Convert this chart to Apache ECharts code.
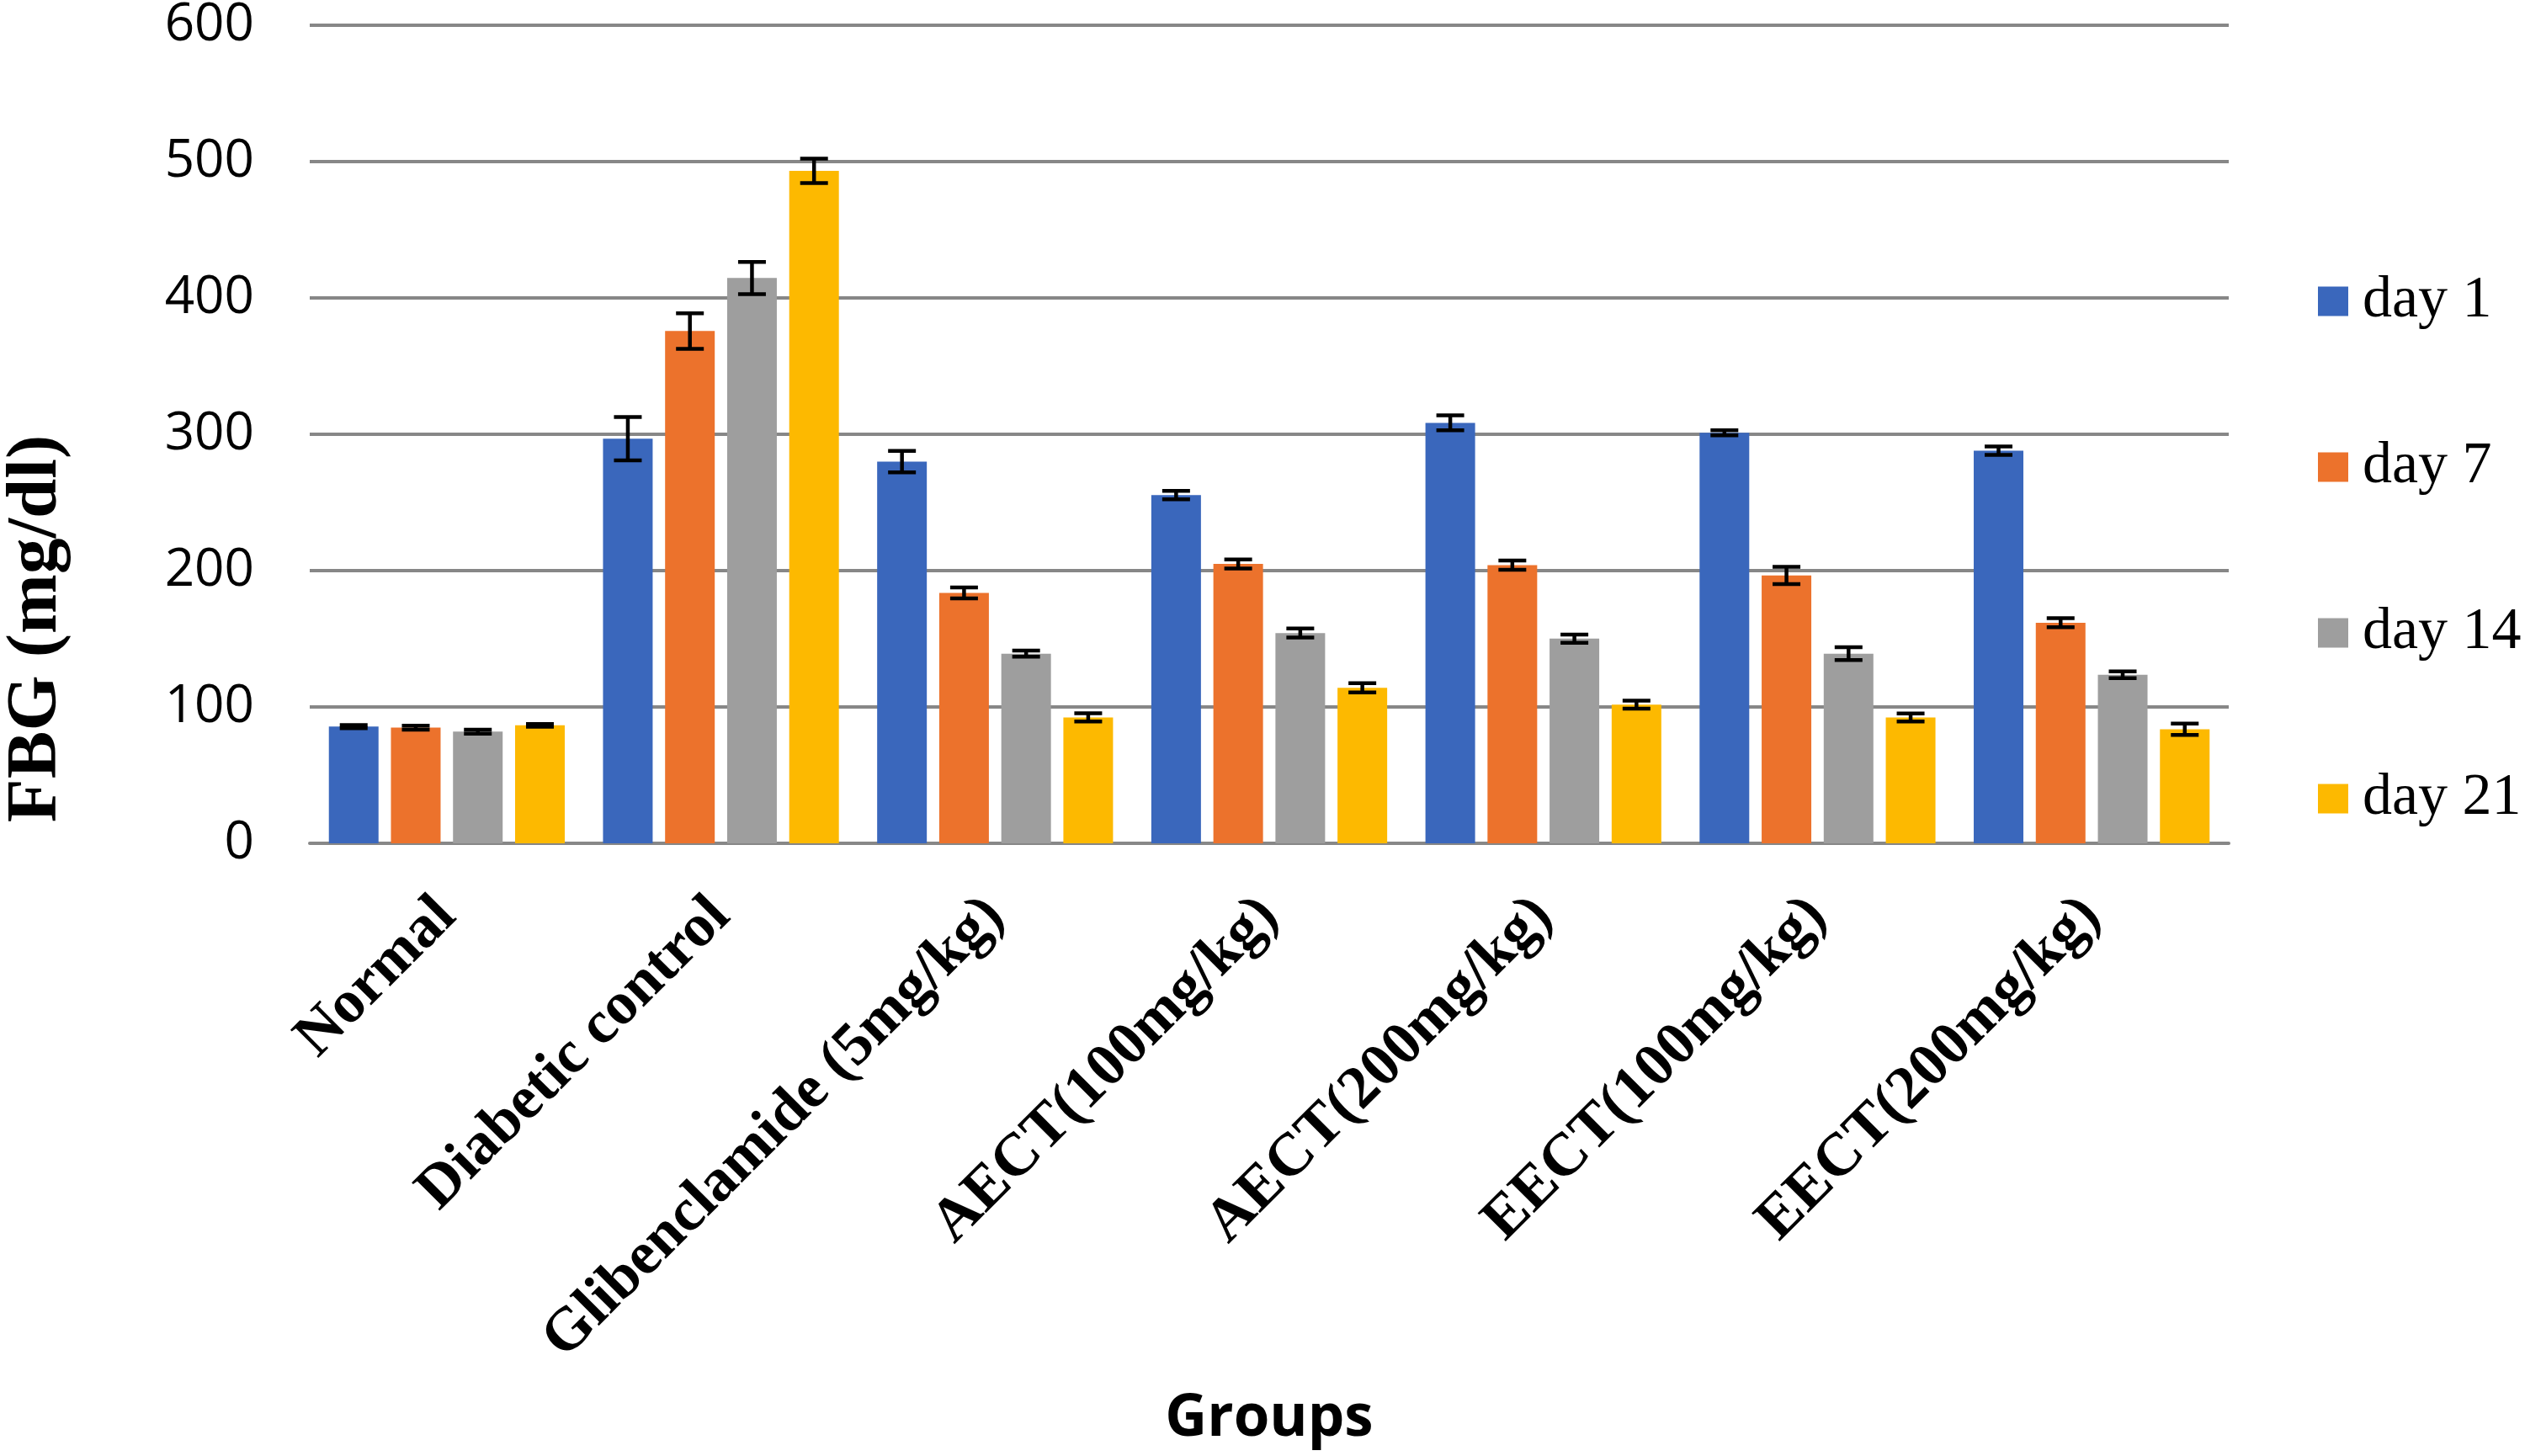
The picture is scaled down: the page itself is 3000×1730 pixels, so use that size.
<!DOCTYPE html>
<html>
<head>
<meta charset="utf-8">
<script src="https://cdn.jsdelivr.net/npm/echarts@6/dist/echarts.min.js"></script>
<style>
html,body{margin:0;padding:0;background:#fff;}
#chart{width:3000px;height:1730px;}
</style>
</head>
<body>
<div id="chart"></div>
<script>
const categories = ['Normal','Diabetic control','Glibenclamide (5mg/kg)','AECT(100mg/kg)','AECT(200mg/kg)','EECT(100mg/kg)','EECT(200mg/kg)'];
const seriesNames = ['day 1','day 7','day 14','day 21'];
const day1 = [85.6, 296.7, 279.9, 255.4, 308.4, 301.1, 287.9];
const day7 = [84.8, 375.7, 183.7, 204.9, 204.0, 196.5, 161.8];
const day14 = [81.9, 414.6, 139.1, 154.2, 150.1, 139.1, 123.6];
const day21 = [86.5, 493.2, 92.3, 114.0, 101.7, 92.3, 83.6];
const err1 = [1.2, 15.9, 7.9, 3.1, 5.5, 1.8, 3.1];
const err7 = [1.5, 13.0, 4.0, 3.3, 3.4, 6.3, 3.3];
const err14 = [1.5, 11.8, 2.2, 3.3, 3.0, 4.7, 2.5];
const err21 = [1.0, 8.9, 3.0, 3.4, 2.9, 2.9, 4.2];
const yTicks = [0, 100, 200, 300, 400, 500, 600];

const values = [day1, day7, day14, day21];
const errors = [err1, err7, err14, err21];
const colors = ['#3A67BC', '#EC722C', '#9E9E9E', '#FDB900'];
const BAR_W = 59;
const GAP_RATIO = 0.25;

const chart = echarts.init(document.getElementById('chart'), null, {renderer: 'canvas'});

const barSeries = seriesNames.map((name, i) => ({
  name: name,
  type: 'bar',
  data: values[i],
  barWidth: BAR_W,
  barGap: (GAP_RATIO * 100) + '%',
  itemStyle: {color: colors[i]},
  z: 2
}));

const errSeries = seriesNames.map((name, i) => ({
  name: name + ' err',
  type: 'custom',
  z: 5,
  data: values[i].map((v, k) => [k, v - errors[i][k], v + errors[i][k]]),
  encode: {x: 0, y: [1, 2]},
  renderItem: function (params, api) {
    const ci = api.value(0);
    const pLo = api.coord([ci, api.value(1)]);
    const pHi = api.coord([ci, api.value(2)]);
    const step = BAR_W * (1 + GAP_RATIO);
    const x = pLo[0] + (i - 1.5) * step;
    const half = 16.5;
    const style = {stroke: '#000', lineWidth: 4.5, fill: null};
    return {
      type: 'group',
      children: [
        {type: 'line', shape: {x1: x, y1: pLo[1], x2: x, y2: pHi[1]}, style: style},
        {type: 'line', shape: {x1: x - half, y1: pLo[1], x2: x + half, y2: pLo[1]}, style: style},
        {type: 'line', shape: {x1: x - half, y1: pHi[1], x2: x + half, y2: pHi[1]}, style: style}
      ]
    };
  }
}));

const option = {
  backgroundColor: '#ffffff',
  animation: false,
  grid: {left: 368, right: 352, top: 30, bottom: 728, containLabel: false, outerBoundsMode: 'none'},
  legend: {
    data: seriesNames,
    orient: 'vertical',
    left: 2754,
    top: 323,
    padding: 0,
    itemWidth: 36,
    itemHeight: 35,
    itemGap: 127,
    icon: 'rect',
    textStyle: {fontFamily: 'Liberation Serif', fontSize: 70, lineHeight: 70, color: '#000', padding: [0, 0, 0, 12]}
  },
  xAxis: {
    type: 'category',
    data: categories,
    name: 'Groups',
    nameLocation: 'middle',
    nameGap: 650,
    nameMoveOverlap: false,
    nameTextStyle: {fontFamily: 'Open Sans', fontWeight: 'bold', fontSize: 69, color: '#000'},
    axisLine: {show: true, lineStyle: {color: '#878787', width: 4}},
    axisTick: {show: false},
    axisLabel: {
      interval: 0,
      rotate: 45,
      margin: 76,
      fontFamily: 'Liberation Serif',
      fontWeight: 'bold',
      fontSize: 72,
      color: '#000'
    }
  },
  yAxis: {
    type: 'value',
    min: yTicks[0],
    max: yTicks[yTicks.length - 1],
    interval: yTicks[1] - yTicks[0],
    axisLine: {show: false},
    axisTick: {show: false},
    splitLine: {lineStyle: {color: '#878787', width: 4}},
    axisLabel: {margin: 66, fontFamily: 'Open Sans', fontSize: 62, color: '#000'}
  },
  graphic: [{
    type: 'text',
    x: 44,
    y: 747,
    rotation: Math.PI / 2,
    style: {
      text: 'FBG (mg/dl)',
      fontFamily: 'Liberation Serif',
      fontWeight: 'bold',
      fontSize: 85,
      fill: '#000',
      align: 'center',
      verticalAlign: 'middle'
    }
  }],
  series: barSeries.concat(errSeries)
};
chart.setOption(option);
</script>
</body>
</html>
